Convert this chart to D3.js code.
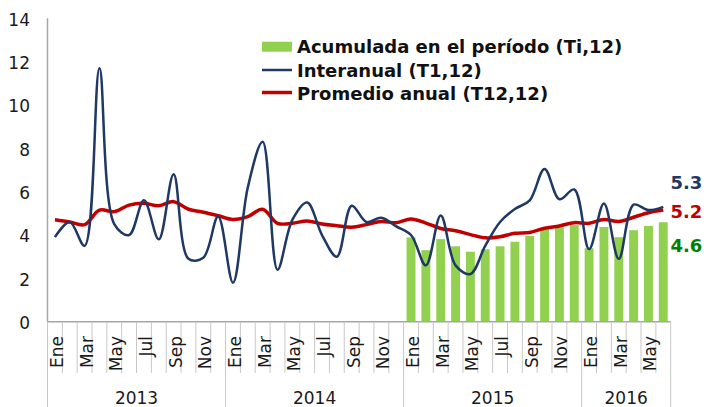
<!DOCTYPE html>
<html>
<head>
<meta charset="utf-8">
<script src="https://cdn.jsdelivr.net/npm/d3@7"></script>
<style>
  html, body { margin: 0; padding: 0; background: #fff; }
  svg { display: block; font-family: "DejaVu Sans", Verdana, sans-serif; }
</style>
</head>
<body>
<svg id="chart" width="706" height="407"></svg>
<script>
// ---------- DATA ----------
const years = ["2013", "2014", "2015", "2016"];
const yearMonths = [12, 12, 12, 6];
const categories = [
  "Ene","Feb","Mar","Abr","May","Jun","Jul","Ago","Sep","Oct","Nov","Dic",
  "Ene","Feb","Mar","Abr","May","Jun","Jul","Ago","Sep","Oct","Nov","Dic",
  "Ene","Feb","Mar","Abr","May","Jun","Jul","Ago","Sep","Oct","Nov","Dic",
  "Ene","Feb","Mar","Abr","May","Jun"
];
const shownMonths = ["Ene","Mar","May","Jul","Sep","Nov"];
// Interanual (T1,12)
const interanual = [
  3.9, 4.6, 3.5, 11.7, 4.5, 4.0, 5.6, 3.8, 6.8, 2.9, 2.95, 4.85,
  1.8, 6.2, 8.3, 2.4, 4.7, 5.5, 4.0, 3.0, 5.35, 4.6, 4.8, 4.4,
  4.0, 2.6, 4.9, 2.6, 2.2, 3.5, 4.6, 5.2, 5.6, 7.05, 5.65, 6.1,
  3.35, 5.45, 2.9, 5.4, 5.15, 5.3
];
// Promedio anual (T12,12)
const promedio = [
  4.7, 4.6, 4.48, 5.15, 5.08, 5.38, 5.46, 5.35, 5.54, 5.19, 5.05, 4.89,
  4.72, 4.85, 5.19, 4.54, 4.54, 4.65, 4.51, 4.43, 4.36, 4.48, 4.62, 4.57,
  4.74, 4.55, 4.3, 4.2, 4.02, 3.87, 3.92, 4.08, 4.12, 4.31, 4.42, 4.57,
  4.54, 4.72, 4.62, 4.82, 5.03, 5.15
];
// Acumulada en el período (Ti,12), from Jan 2015
const acumStart = 24;
const acumulada = [
  3.89, 3.3, 3.81, 3.48, 3.23, 3.34, 3.48, 3.69, 3.96, 4.26, 4.35, 4.46,
  3.39, 4.37, 3.9, 4.22, 4.42, 4.59
];
const yTicks = [0, 2, 4, 6, 8, 10, 12, 14];
const legendLabels = ["Acumulada en el período (Ti,12)", "Interanual (T1,12)", "Promedio anual (T12,12)"];
const endLabels = ["5.3", "5.2", "4.6"];

// ---------- CHART ----------
const svg = d3.select("#chart");
const C_BAR = "#92D050", C_BLUE = "#1F3864", C_RED = "#C00000", C_GREEN = "#008000";
const AXIS = "#A6A6A6", GRID = "#C8C8C8";

const x = d3.scaleBand().domain(d3.range(categories.length)).range([47.5, 670.7]).paddingInner(0).paddingOuter(0);
const y = d3.scaleLinear().domain([0, 14]).range([321.7, 18.3]);
const cx = i => x(i) + x.bandwidth() / 2;

// bars
const barW = x.bandwidth() * 0.6;
svg.append("g").selectAll("rect").data(acumulada).join("rect")
  .attr("x", (d, i) => cx(i + acumStart) - barW / 2)
  .attr("y", d => y(d))
  .attr("width", barW)
  .attr("height", d => y(0) - y(d))
  .attr("fill", C_BAR);

// y axis
svg.append("line").attr("x1", 47.5).attr("x2", 47.5).attr("y1", y(14)).attr("y2", y(0))
  .attr("stroke", AXIS).attr("stroke-width", 1.5);
svg.append("g").selectAll("text").data(yTicks).join("text")
  .attr("x", 30).attr("y", d => y(d) + 1.5).attr("dy", "0.35em")
  .attr("text-anchor", "end").attr("font-size", 17).attr("fill", "#1a1a1a")
  .text(d => d);

// x axis line
svg.append("line").attr("x1", 47.5).attr("x2", 670.7).attr("y1", y(0)).attr("y2", y(0))
  .attr("stroke", AXIS).attr("stroke-width", 1.5);

// boundaries
const boundaries = d3.range(categories.length + 1);
const yearBounds = [0];
yearMonths.reduce((acc, m) => { yearBounds.push(acc + m); return acc + m; }, 0);
svg.append("g").selectAll("line").data(boundaries).join("line")
  .attr("x1", i => i < categories.length ? x(i) : x.range()[1])
  .attr("x2", i => i < categories.length ? x(i) : x.range()[1])
  .attr("y1", y(0))
  .attr("y2", i => yearBounds.includes(i) ? 407 : 373)
  .attr("stroke", GRID).attr("stroke-width", 1);

// month labels
svg.append("g").selectAll("text").data(categories.map((c, i) => ({c, i})).filter(d => shownMonths.includes(d.c)))
  .join("text")
  .attr("transform", d => `translate(${cx(d.i) + 2},336) rotate(-90)`)
  .attr("dy", "0.35em")
  .attr("text-anchor", "end").attr("font-size", 17).attr("fill", "#1a1a1a")
  .text(d => d.c);

// year labels
let acc = 0;
const yearPos = years.map((yr, k) => { const s = acc; acc += yearMonths[k]; return {yr, mid: (x(s) + (acc < categories.length ? x(acc) : x.range()[1])) / 2}; });
svg.append("g").selectAll("text").data(yearPos).join("text")
  .attr("x", d => d.mid).attr("y", 398).attr("dy", "0.35em")
  .attr("text-anchor", "middle").attr("font-size", 17).attr("fill", "#1a1a1a")
  .text(d => d.yr);

// lines
const curve = d3.curveCatmullRom.alpha(0.5);
const lineGen = d3.line().x((d, i) => cx(i)).y(d => y(d)).curve(curve);
svg.append("path").datum(promedio).attr("d", lineGen)
  .attr("fill", "none").attr("stroke", C_RED).attr("stroke-width", 3.5).attr("stroke-linejoin", "round");
svg.append("path").datum(interanual).attr("d", lineGen)
  .attr("fill", "none").attr("stroke", C_BLUE).attr("stroke-width", 2.5).attr("stroke-linejoin", "round");

// legend
const lg = svg.append("g");
lg.append("rect").attr("x", 262).attr("y", 41.7).attr("width", 30).attr("height", 10).attr("fill", C_BAR);
lg.append("line").attr("x1", 262).attr("x2", 292).attr("y1", 70).attr("y2", 70).attr("stroke", C_BLUE).attr("stroke-width", 2.5);
lg.append("line").attr("x1", 262).attr("x2", 292).attr("y1", 92.5).attr("y2", 92.5).attr("stroke", C_RED).attr("stroke-width", 3.5);
lg.selectAll("text").data(legendLabels).join("text")
  .attr("x", 297).attr("y", (d, i) => 53.3 + i * 23.35)
  .attr("font-size", 18).attr("font-weight", "bold").attr("fill", "#111")
  .text(d => d);

// end labels
const endColors = [C_BLUE, C_RED, C_GREEN];
const endY = [189.2, 218.3, 251.6];
svg.append("g").selectAll("text").data(endLabels).join("text")
  .attr("x", 670.5).attr("y", (d, i) => endY[i])
  .attr("font-size", 18).attr("font-weight", "bold")
  .attr("fill", (d, i) => endColors[i])
  .text(d => d);
</script>
</body>
</html>
